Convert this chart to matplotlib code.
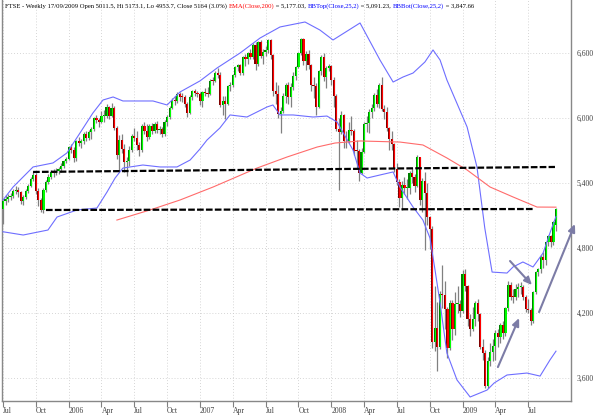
import matplotlib
matplotlib.use("Agg")
import matplotlib.pyplot as plt
from matplotlib.transforms import ScaledTranslation
import numpy as np

# weekly FTSE candles, first week ending 8 Jul 2005, last 17 Sep 2009
opens = [
    5158, 5232, 5250, 5270, 5282, 5330, 5340, 5320, 5230, 5270, 5330, 5375, 5440, 5478, 5330, 5240, 5150, 5340, 5410, 5460, 5500, 5490, 5510, 5530, 5560, 5600,
    5620, 5731, 5709, 5633, 5786, 5766, 5786, 5850, 5815, 5872, 5897, 5999, 5983, 5964, 6022, 6023, 6103, 6023, 6093, 5912, 5657, 5800, 5712, 5592, 5602, 5703,
    5833, 5815, 5750, 5700, 5927, 5884, 5829, 5926, 5877, 5949, 5885, 5898, 5850, 5960, 6005, 6096, 6159, 6158, 6217, 6194, 6192, 6131, 6049, 6195, 6247, 6228,
    6221, 6155, 6240, 6229, 6225, 6343, 6342, 6419, 6401, 6116, 6158, 6133, 6292, 6308, 6398, 6473, 6486, 6418, 6565, 6542, 6603, 6563, 6676, 6496, 6702, 6574,
    6608, 6626, 6716, 6579, 6251, 6224, 6038, 6065, 6199, 6303, 6191, 6289, 6390, 6467, 6596, 6729, 6527, 6587, 6486, 6304, 6292, 6106, 6432, 6565, 6375, 6457,
    6476, 6348, 6202, 5902, 5869, 6029, 5784, 5787, 5888, 5884, 5699, 5692, 5495, 5689, 5947, 5956, 6056, 6091, 6215, 6126, 6305, 6087, 6053, 5906, 5802, 5756,
    5530, 5412, 5261, 5377, 5352, 5354, 5489, 5454, 5371, 5636, 5240, 5416, 5311, 5088, 4980, 3932, 4063, 3883, 4377, 4365, 4233, 3874, 4288, 4049, 4280, 4286,
    4216, 4562, 4448, 4148, 4052, 4149, 4292, 4189, 3889, 3830, 3530, 3754, 3842, 3898, 4014, 3983, 4092, 4019, 4243, 4462, 4348, 4345, 4418, 4438, 4442, 4345,
    4241, 4226, 4128, 4390, 4577, 4608, 4714, 4685, 4851, 4909, 4852, 5011.5,
]
highs = [
    5240, 5285, 5295, 5310, 5345, 5375, 5360, 5330, 5290, 5345, 5390, 5455, 5500, 5490, 5350, 5260, 5350, 5430, 5480, 5520, 5530, 5535, 5550, 5580, 5615, 5640,
    5740, 5760, 5730, 5800, 5820, 5810, 5870, 5880, 5890, 5920, 6010, 6030, 6000, 6060, 6070, 6130, 6110, 6137, 6110, 5930, 5840, 5850, 5760, 5640, 5740, 5850,
    5910, 5880, 5780, 5940, 5960, 5940, 5940, 5950, 5960, 5970, 5930, 5920, 5980, 6030, 6110, 6180, 6200, 6240, 6240, 6230, 6210, 6150, 6210, 6260, 6270, 6250,
    6240, 6250, 6280, 6290, 6360, 6380, 6430, 6460, 6420, 6200, 6200, 6300, 6330, 6410, 6480, 6500, 6500, 6570, 6590, 6610, 6640, 6690, 6700, 6710, 6720, 6640,
    6660, 6732, 6730, 6590, 6330, 6300, 6100, 6230, 6320, 6330, 6320, 6420, 6480, 6610, 6740, 6740, 6620, 6630, 6500, 6380, 6320, 6440, 6580, 6600, 6480, 6500,
    6490, 6380, 6220, 6000, 6060, 6040, 5880, 5960, 6020, 5900, 5800, 5710, 5720, 5960, 6020, 6080, 6130, 6230, 6270, 6320, 6376, 6120, 6100, 5920, 5880, 5770,
    5580, 5440, 5420, 5460, 5440, 5510, 5540, 5480, 5660, 5640, 5450, 5500, 5400, 5100, 5000, 4450, 4300, 4400, 4640, 4500, 4260, 4320, 4320, 4390, 4450, 4320,
    4600, 4610, 4460, 4190, 4260, 4310, 4330, 4200, 3960, 3860, 3790, 3920, 3960, 4040, 4050, 4110, 4130, 4260, 4500, 4490, 4420, 4470, 4480, 4490, 4460, 4370,
    4330, 4250, 4400, 4590, 4620, 4740, 4760, 4860, 4920, 4920, 5050, 5173.1,
]
lows = [
    5022, 5200, 5225, 5240, 5260, 5300, 5270, 5210, 5200, 5255, 5310, 5360, 5420, 5300, 5190, 5130, 5120, 5320, 5390, 5440, 5460, 5470, 5480, 5500, 5540, 5580,
    5610, 5680, 5590, 5600, 5740, 5720, 5760, 5790, 5800, 5810, 5880, 5950, 5920, 5950, 5960, 6000, 5990, 6010, 5890, 5620, 5510, 5680, 5500, 5467, 5560, 5690,
    5790, 5700, 5650, 5690, 5850, 5790, 5810, 5850, 5860, 5860, 5850, 5820, 5830, 5930, 5990, 6080, 6120, 6140, 6160, 6150, 6100, 6010, 6040, 6170, 6200, 6190,
    6120, 6100, 6200, 6190, 6210, 6300, 6330, 6370, 6100, 6030, 5990, 6120, 6250, 6290, 6380, 6430, 6400, 6400, 6480, 6500, 6540, 6540, 6440, 6480, 6550, 6500,
    6570, 6600, 6540, 6200, 6130, 6000, 5858, 6050, 6140, 6130, 6100, 6260, 6350, 6460, 6580, 6490, 6440, 6450, 6250, 6180, 6030, 6090, 6400, 6340, 6280, 6430,
    6300, 6100, 5880, 5340, 5850, 5720, 5720, 5770, 5840, 5660, 5530, 5414, 5480, 5680, 5870, 5860, 6000, 6060, 6100, 6090, 6060, 5990, 5880, 5700, 5700, 5500,
    5380, 5180, 5150, 5300, 5250, 5300, 5400, 5320, 5360, 5200, 5130, 4783, 5010, 4790, 3874, 3850, 3665, 3870, 4250, 4050, 3781, 3860, 3950, 4000, 4200, 4160,
    4200, 4400, 4080, 3990, 4030, 4080, 4130, 3870, 3770, 3505, 3510, 3710, 3760, 3770, 3890, 3920, 3960, 3990, 4220, 4320, 4290, 4320, 4350, 4380, 4320, 4210,
    4200, 4090, 4110, 4380, 4540, 4570, 4620, 4640, 4820, 4810, 4830, 4953.7,
]
closes = [
    5232, 5250, 5270, 5282, 5330, 5340, 5320, 5230, 5270, 5330, 5375, 5440, 5478, 5330, 5240, 5150, 5340, 5410, 5460, 5500, 5490, 5510, 5530, 5560, 5600, 5620,
    5731, 5709, 5633, 5786, 5766, 5786, 5850, 5815, 5872, 5897, 5999, 5983, 5964, 6022, 6023, 6103, 6023, 6093, 5912, 5657, 5800, 5712, 5592, 5602, 5703, 5833,
    5815, 5750, 5700, 5927, 5884, 5829, 5926, 5877, 5949, 5885, 5898, 5850, 5960, 6005, 6096, 6159, 6158, 6217, 6194, 6192, 6131, 6049, 6195, 6247, 6228, 6221,
    6155, 6240, 6229, 6225, 6343, 6342, 6419, 6401, 6116, 6158, 6133, 6292, 6308, 6398, 6473, 6486, 6418, 6565, 6542, 6603, 6563, 6676, 6496, 6702, 6574, 6608,
    6626, 6716, 6579, 6251, 6224, 6038, 6065, 6199, 6303, 6191, 6289, 6390, 6467, 6596, 6729, 6527, 6587, 6486, 6304, 6292, 6106, 6432, 6565, 6375, 6457, 6476,
    6348, 6202, 5902, 5869, 6029, 5784, 5787, 5888, 5884, 5699, 5692, 5495, 5689, 5947, 5956, 6056, 6091, 6215, 6126, 6305, 6087, 6053, 5906, 5802, 5756, 5530,
    5412, 5261, 5377, 5352, 5354, 5489, 5454, 5371, 5636, 5240, 5416, 5311, 5088, 4980, 3932, 4063, 3883, 4377, 4365, 4233, 3874, 4288, 4049, 4280, 4286, 4216,
    4562, 4448, 4148, 4052, 4149, 4292, 4189, 3889, 3830, 3530, 3754, 3842, 3898, 4014, 3983, 4092, 4019, 4243, 4462, 4348, 4345, 4418, 4438, 4442, 4345, 4241,
    4226, 4128, 4390, 4577, 4608, 4714, 4685, 4851, 4909, 4852, 5043, 5164,
]

# indicator curves (week index, level)
bbtop_wk = [0, 4, 11.9, 19.8, 25.3, 30.5, 35.6, 39.6, 43.6, 47.5, 59.4, 65, 70.1, 78, 84.8, 93.9, 101.8, 109.7, 119.6, 125.5,
            130.7, 141.4, 149.3, 154.5, 158.4, 162.4, 167.1, 170.3, 173.1, 175.8, 183.8, 187.7, 190.8, 192.9, 193.7, 199.6,
            202, 205.9, 209.9, 213.9, 216.6, 219]
bbtop = [5243, 5363, 5548, 5585, 5677, 5862, 6046, 6166, 6194, 6157, 6157, 6120, 6240, 6342, 6462, 6600, 6738, 6840, 6886, 6812,
         6720, 6877, 6535, 6332, 6378, 6415, 6517, 6628, 6535, 6351, 5917, 5548, 4985, 4689, 4578, 4569,
         4625, 4671, 4625, 4754, 4938, 5091]
bbbot_wk = [0, 8, 17.8, 21.4, 29.3, 37.2, 41.2, 44.4, 47.5, 55.4, 62.2, 68.9, 74.1, 78, 80.8, 85.9, 89.9, 96.6, 104.6, 106.9,
            109.7, 114.9, 122.8, 128.3, 132.3, 138.6, 141.4, 144.2, 149.3, 154.5, 157.2, 162.4, 166.3, 169.1, 171.1, 173.1,
            175.8, 179.8, 185, 191.7, 194.5, 199.6, 207.5, 212.7, 216.6, 219]
bbbot = [4950, 4920, 4966, 5086, 5151, 5169, 5317, 5446, 5538, 5566, 5548, 5548, 5612, 5714, 5797, 5908, 6028, 6009, 6102, 6120,
         6028, 6028, 6009, 6018, 5963, 5705, 5492, 5446, 5474, 5502, 5363, 5178, 5058, 4892, 4597, 4292,
         3831, 3582, 3425, 3489, 3554, 3628, 3646, 3618, 3766, 3848]
ema_wk = [45.1, 58.2, 70.1, 83.2, 100.6, 112.5, 124.4, 131.5, 141.4, 157.2, 166.3, 175.8, 183.8, 192.9, 202, 211.5, 219]
ema = [5058, 5151, 5243, 5363, 5538, 5640, 5732, 5769, 5788, 5778, 5751, 5631, 5520, 5363, 5271, 5178, 5177]

# drawn-in support / resistance lines and arrows (week, level)
dashed_lines = [((11.9, 5502), (218.6, 5548)), ((17.0, 5151), (210.0, 5160))]
arrows = [((196.0, 3701), (204.4, 4154)), ((200.8, 4680), (209.5, 4458)), ((212.3, 4209), (226.5, 5022))]

tick_weeks = [0, 13, 26, 39, 52, 65, 78, 91, 104, 117, 130, 143, 156, 169, 182, 195, 208]
tick_labels = ['Jul', 'Oct', '2006', 'Apr', 'Jul', 'Oct', '2007', 'Apr', 'Jul', 'Oct', '2008', 'Apr', 'Jul', 'Oct', '2009', 'Apr', 'Jul']
price_ticks = [3600, 4200, 4800, 5400, 6000, 6600]

title_parts = [
    ('FTSE - Weekly 17/09/2009 Open 5011.5, Hi 5173.1, Lo 4953.7, Close 5164 (3.0%) ', 'black'),
    ('EMA(Close,200)', 'red'),
    (' = 5,177.03, ', 'black'),
    ('BBTop(Close,25,2)', 'blue'),
    (' = 5,091.23, ', 'black'),
    ('BBBot(Close,25,2)', 'blue'),
    (' = 3,847.66', 'black'),
]

FONT = 'Liberation Serif'

fig = plt.figure(figsize=(6, 4.15), dpi=100)
ax = fig.add_axes([2 / 600, 14 / 415, 569 / 600, 401 / 415])

wk = np.arange(len(closes))
o = np.array(opens, dtype=float)
c = np.array(closes, dtype=float)
up = c >= o
lo = np.minimum(o, c)
h = np.maximum(np.abs(c - o), 8)

ax.vlines(wk, lows, highs, color='#808080', lw=0.9, zorder=2)
ax.bar(wk - 0.22, h, width=0.44, bottom=lo, color=np.where(up, '#008000', '#800000'), lw=0, zorder=3)
ax.bar(wk + 0.22, h, width=0.44, bottom=lo, color=np.where(up, '#00ff00', '#ff0000'), lw=0, zorder=3)

ax.plot(bbtop_wk, bbtop, color='#6e6eff', lw=0.8, zorder=4)
ax.plot(bbbot_wk, bbbot, color='#6e6eff', lw=0.8, zorder=4)
ax.plot(ema_wk, ema, color='#ff6b6b', lw=0.8, zorder=4)

for (x0, y0), (x1, y1) in dashed_lines:
    ax.plot([x0, x1], [y0, y1], color='black', lw=1.6, dashes=(3, 1), zorder=5)

for tail, head in arrows:
    ax.annotate('', xy=head, xytext=tail, annotation_clip=False,
                arrowprops=dict(arrowstyle='-|>,head_length=0.45,head_width=0.2',
                                color='#7c7ca6', lw=1.5, shrinkA=0, shrinkB=0), zorder=6)

ax.set_xlim(-0.4, 224.95)
ax.set_ylim(3388, 7089)

ax.set_xticks(tick_weeks)
ax.set_xticklabels(tick_labels, fontsize=5.5, family=FONT, color='#404040')
shift = ScaledTranslation(1.5 / 72, 0, fig.dpi_scale_trans)
for lab in ax.get_xticklabels():
    lab.set_horizontalalignment('left')
    lab.set_transform(lab.get_transform() + shift)
ax.tick_params(axis='x', direction='out', length=4, width=0.8, color='#808080', pad=0.5)

ax.yaxis.tick_right()
ax.set_yticks(price_ticks)
ax.set_yticklabels([f'{v:,}' for v in price_ticks], fontsize=5.5, family=FONT, color='#404040')
ax.tick_params(axis='y', length=0, pad=4)

ax.grid(True, ls=(0, (1, 2.5)), color='#c8c8c8', lw=0.6, zorder=0)
ax.set_axisbelow(True)
for side in ['left', 'right', 'bottom']:
    ax.spines[side].set_color('#888888')
    ax.spines[side].set_linewidth(1.0)
ax.spines['top'].set_visible(False)

fig.canvas.draw()
renderer = fig.canvas.get_renderer()
xpos = 5
for text, col in title_parts:
    t = fig.text(xpos / 600, 1 - 6 / 415, text, color=col, fontsize=4.8, family=FONT, va='center', ha='left')
    xpos = t.get_window_extent(renderer).x1

fig.savefig('out.png', dpi=100)
